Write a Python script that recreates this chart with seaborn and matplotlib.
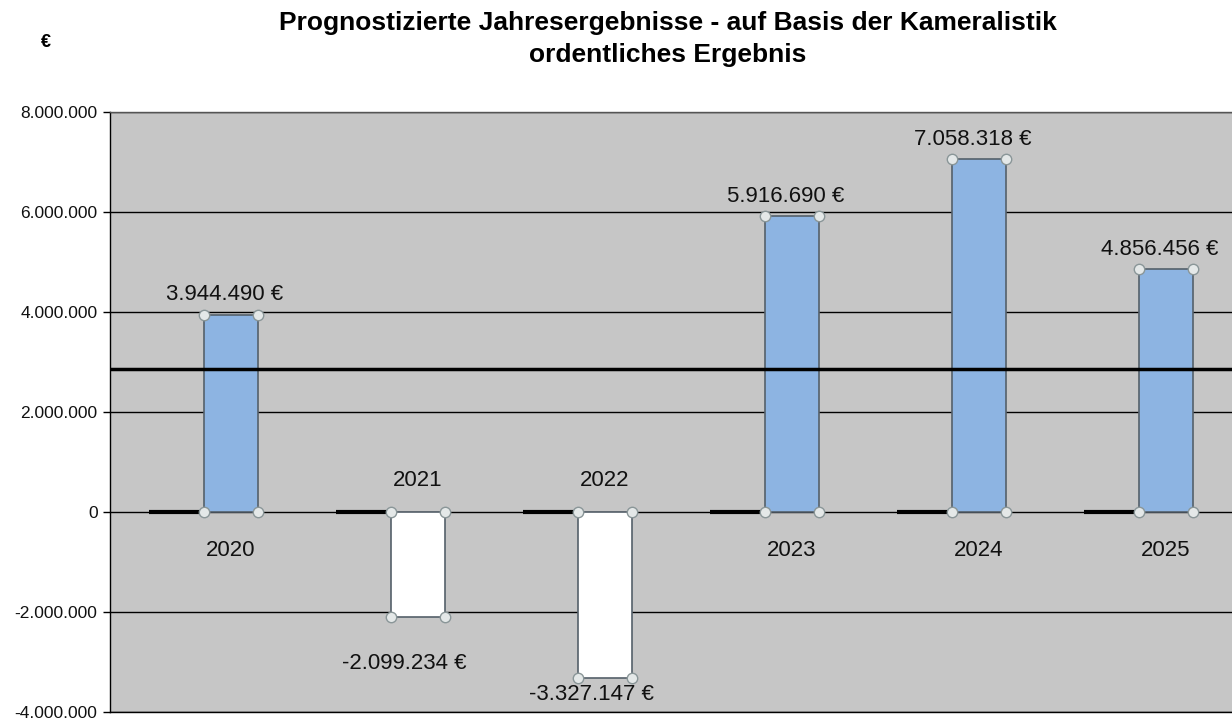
import pandas as pd
import matplotlib
matplotlib.use("Agg")
import matplotlib.pyplot as plt
import seaborn as sns

years = ['2020', '2021', '2022', '2023', '2024', '2025']
ergebnis = [3944490, -2099234, -3327147, 5916690, 7058318, 4856456]
nullreihe = [0, 0, 0, 0, 0, 0]
referenz = 2860000
y_ticks = [-4000000, -2000000, 0, 2000000, 4000000, 6000000, 8000000]


def fmt(v):
    return f"{v:,.0f}".replace(",", ".")


df = pd.DataFrame({
    'Jahr': years * 2,
    'Wert': nullreihe + ergebnis,
    'Reihe': ['null'] * len(years) + ['ergebnis'] * len(years),
})

sns.set_style("white")
plt.rcParams['font.family'] = ['Liberation Sans', 'DejaVu Sans']
plt.rcParams['text.color'] = 'black'
plt.rcParams['ytick.color'] = 'black'

fig = plt.figure(figsize=(12.32, 7.19), dpi=100)
ax = fig.add_axes([0.0893, 0.0097, 0.9107, 0.8345])
ax.set_facecolor('#c6c6c6')

sns.barplot(
    ax=ax, data=df, x='Jahr', y='Wert', hue='Reihe',
    hue_order=['null', 'ergebnis'], width=0.58,
    palette={'null': 'black', 'ergebnis': '#8db4e2'},
    legend=False, zorder=3,
)

null_bars, main_bars = ax.containers
for p in null_bars:
    p.set_edgecolor('black')
    p.set_linewidth(3)
centers = []
for p, v in zip(main_bars, ergebnis):
    p.set_facecolor('#8db4e2' if v >= 0 else 'white')
    p.set_edgecolor('#55606a')
    p.set_linewidth(1.2)
    x0, x1 = p.get_x(), p.get_x() + p.get_width()
    y0, y1 = p.get_y(), p.get_y() + p.get_height()
    centers.append((x0 + x1) / 2)
    ax.plot([x0, x1, x0, x1], [y0, y0, y1, y1], 'o', ms=7.5,
            mfc='#e4e8e8', mec='#8a9698', mew=1, zorder=6, clip_on=False)

ax.axhline(referenz, color='black', lw=2.5, zorder=5)

ax.set_xlim(-0.5, 5.5)
ax.set_ylim(-4000000, 8000000)
ax.set_yticks(y_ticks)
ax.set_yticklabels([fmt(t) for t in y_ticks], fontsize=12.5, color='#111111')
ax.yaxis.grid(True, color='black', lw=1)
ax.set_axisbelow(True)
ax.tick_params(axis='y', left=True, length=5, width=1, color='black', pad=4)
ax.tick_params(axis='x', bottom=False, labelbottom=False)
ax.set_xlabel('')
ax.set_ylabel('')
for side in ['left', 'bottom', 'top']:
    ax.spines[side].set_color('black')
    ax.spines[side].set_linewidth(1)
ax.spines['top'].set_color('#555555')
ax.spines['right'].set_visible(False)

for xc, yr, v in zip(centers, years, ergebnis):
    if v >= 0:
        ax.text(xc - 0.03, v + 400000, f"{fmt(v)} €", ha='center', va='center',
                fontsize=16, color='#111111', zorder=7)
        ax.text(xc, -760000, yr, ha='center', va='center', fontsize=16, color='#111111', zorder=7)
    else:
        ax.text(xc - 0.07, max(v - 940000, -3640000), f"{fmt(v)} €", ha='center', va='center',
                fontsize=16, color='#111111', zorder=7)
        ax.text(xc, 640000, yr, ha='center', va='center', fontsize=16, color='#111111', zorder=7)

fig.text(0.542, 0.985, 'Prognostizierte Jahresergebnisse - auf Basis der Kameralistik\nordentliches Ergebnis',
         ha='center', va='top', fontsize=19, fontweight='bold', linespacing=1.45)
fig.text(0.037, 0.941, '€', ha='center', va='center', fontsize=13, fontweight='bold')

fig.savefig('out.png', dpi=100)
